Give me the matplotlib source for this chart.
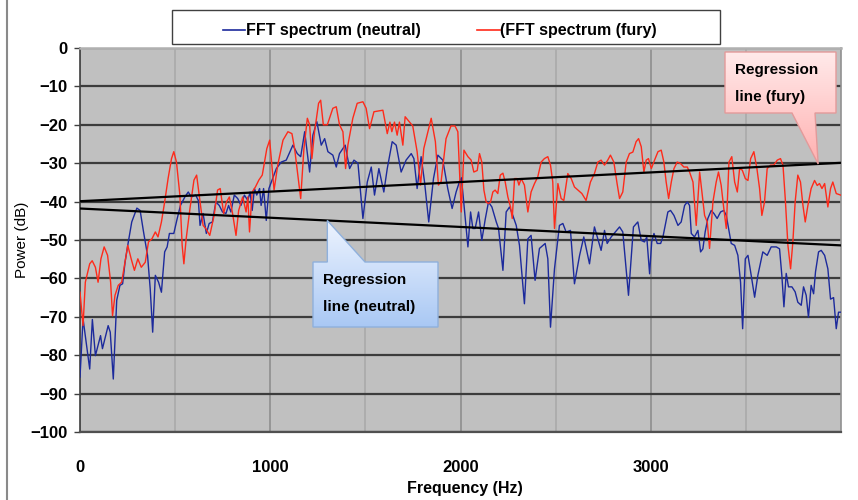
import matplotlib
matplotlib.use("Agg")
import matplotlib.pyplot as plt
import numpy as np
from matplotlib.patches import Polygon, Rectangle
from matplotlib.lines import Line2D
from matplotlib.colors import LinearSegmentedColormap

plt.rcParams['font.family'] = ['Liberation Sans', 'DejaVu Sans']

# ---------------- data ----------------
neutral_label = "FFT spectrum (neutral)"
fury_label = "(FFT spectrum (fury)"

neutral_freq = [0, 16, 51, 65, 81, 108, 118, 131, 148, 159, 175, 193, 210, 224, 237, 254, 272, 299, 316,
                334, 355, 369, 382, 396, 413, 428, 445, 458, 470, 493, 511, 528, 551, 569, 585, 608, 622,
                631, 647, 664, 679, 696, 714, 732, 749, 767, 781, 793, 811, 829, 846, 864, 882, 894, 905,
                917, 929, 944, 952, 965, 979, 993,
                1032, 1058, 1084, 1119, 1142, 1160, 1181, 1207, 1224, 1245, 1268, 1286, 1303, 1329, 1347,
                1364, 1382, 1394, 1417, 1440, 1461, 1487, 1510, 1531, 1548, 1571, 1597, 1615, 1641, 1662,
                1688, 1714, 1741, 1755, 1772, 1793, 1811, 1833, 1858, 1881, 1907, 1933, 1956, 1977, 1994,
                2005, 2039, 2053, 2065, 2077, 2095, 2112, 2130, 2147, 2165, 2188, 2200, 2223, 2240, 2258,
                2275, 2293, 2310, 2336, 2354, 2371, 2392, 2415, 2445, 2459, 2473, 2494, 2520, 2538, 2555,
                2578, 2599, 2626, 2648, 2678, 2704, 2739, 2757, 2771, 2792, 2836, 2853, 2883, 2909, 2932,
                2950, 2967, 2979, 2994,
                3005, 3017, 3034, 3052, 3064, 3076, 3090, 3104, 3122, 3143, 3160, 3178, 3192, 3204, 3213,
                3230, 3248, 3262, 3274, 3286, 3300, 3318, 3332, 3349, 3367, 3384, 3397, 3409, 3423, 3441,
                3458, 3472, 3483, 3497, 3511, 3528, 3546, 3563, 3589, 3612, 3633, 3660, 3677, 3689, 3700,
                3712, 3724, 3742, 3759, 3773, 3791, 3803, 3817, 3829, 3843, 3856, 3866, 3882, 3896, 3914,
                3931, 3945, 3961, 3975, 3987, 3998]
neutral_db = [-85.7, -70.5, -83.6, -70.7, -80.1, -74.9, -78.3, -75.7, -72.3, -74.0, -86.2, -65.7, -61.8,
              -61.4, -55.7, -50.5, -45.3, -41.7, -42.3, -47.9, -54.0, -62.7, -74.0, -59.2, -61.0, -63.6,
              -53.1, -51.8, -48.3, -48.3, -44.4, -41.0, -38.8, -37.5, -38.8, -38.3, -39.7, -46.2, -43.1,
              -48.3, -45.7, -45.3, -40.1, -41.0, -42.7, -43.1, -41.0, -42.7, -38.3, -39.2, -41.0, -38.3,
              -39.7, -37.5, -42.3, -36.6, -38.3, -36.6, -41.0, -36.6, -44.9, -36.6,
              -31.4, -29.7, -29.2, -25.3, -27.5, -28.3, -21.8, -32.3, -22.7, -19.2, -25.3, -23.6, -27.0,
              -27.9, -31.0, -27.5, -26.2, -25.3, -31.4, -29.2, -30.0, -44.4, -34.9, -31.0, -38.3, -31.4,
              -37.5, -31.4, -24.4, -25.3, -32.3, -29.2, -27.5, -28.8, -36.6, -28.3, -34.9, -45.3, -34.0,
              -27.9, -29.2, -36.6, -41.8, -37.5, -34.9,
              -33.8, -51.8, -42.7, -47.0, -47.0, -42.7, -50.1, -44.6, -40.1, -41.4, -45.3, -47.0, -57.9,
              -42.7, -41.4, -43.6, -46.2, -51.4, -66.6, -49.7, -48.8, -60.5, -52.2, -50.9, -54.9, -72.7,
              -57.5, -46.2, -45.7, -47.9, -47.5, -61.4, -54.0, -49.2, -56.2, -46.6, -52.7, -47.5, -50.9,
              -49.2, -46.6, -47.9, -64.4, -46.6, -45.3, -50.1, -50.5, -49.2, -58.8,
              -50.5, -48.3, -50.9, -50.9, -49.2, -46.2, -42.7, -42.3, -43.6, -46.2, -45.3, -41.0, -40.1,
              -41.0, -48.3, -49.2, -47.5, -53.1, -52.3, -47.9, -44.4, -42.3, -43.1, -44.4, -42.7, -42.3,
              -43.6, -47.0, -50.9, -51.4, -54.0, -61.0, -73.1, -54.9, -54.0, -59.2, -64.9, -59.2, -53.1,
              -54.0, -51.8, -51.8, -52.3, -59.2, -67.4, -58.7, -62.2, -62.2, -63.5, -66.2, -67.0, -62.2,
              -64.4, -70.1, -61.8, -64.0, -58.3, -53.1, -52.7, -54.0, -57.5, -65.4, -65.0, -73.1, -68.8,
              -68.8]

fury_freq = [0, 16, 28, 51, 64, 81, 95, 110, 127, 145, 161, 171, 184, 201, 219, 251, 269, 286, 304, 322,
             343, 360, 378, 396, 410, 428, 445, 463, 481, 493, 507, 525, 537, 546, 558, 578, 599, 613, 629,
             647, 661, 682, 705, 723, 737, 755, 770, 785, 802, 820, 834, 855, 873, 882, 891, 905, 922, 940,
             958, 970, 982, 997,
             1020, 1040, 1067, 1093, 1114, 1128, 1160, 1177, 1195, 1207, 1219, 1233, 1254, 1265, 1279,
             1300, 1329, 1347, 1364, 1382, 1396, 1408, 1434, 1457, 1487, 1504, 1522, 1545, 1592, 1615,
             1629, 1639, 1653, 1667, 1679, 1697, 1709, 1732, 1749, 1772, 1790, 1807, 1846, 1868, 1884,
             1898, 1924, 1950, 1971, 1986,
             2004, 2018, 2039, 2056, 2070, 2088, 2100, 2112, 2123, 2135, 2147, 2158, 2170, 2182, 2196,
             2209, 2223, 2235, 2249, 2263, 2272, 2284, 2298, 2307, 2319, 2336, 2354, 2371, 2389, 2406,
             2424, 2441, 2459, 2473, 2485, 2494, 2512, 2529, 2543, 2564, 2582, 2599, 2617, 2638, 2660,
             2683, 2704, 2722, 2739, 2757, 2774, 2788, 2806, 2823, 2836, 2853, 2871, 2888, 2906, 2923,
             2936, 2950, 2964, 2976, 2988,
             3003, 3020, 3038, 3055, 3069, 3081, 3094, 3108, 3122, 3139, 3157, 3174, 3192, 3204, 3222,
             3239, 3257, 3269, 3283, 3297, 3309, 3327, 3344, 3356, 3370, 3384, 3397, 3411, 3426, 3441,
             3455, 3467, 3481, 3497, 3511, 3525, 3542, 3558, 3572, 3584, 3598, 3612, 3630, 3647, 3665,
             3682, 3695, 3707, 3721, 3735, 3747, 3759, 3773, 3787, 3800, 3812, 3826, 3843, 3861, 3875,
             3887, 3900, 3914, 3931, 3945, 3957, 3975, 3998]
fury_db = [-63.6, -72.3, -61.0, -56.2, -55.4, -57.1, -61.0, -54.9, -51.8, -54.0, -61.0, -69.7, -64.4,
           -61.8, -61.0, -51.4, -54.9, -57.9, -54.9, -57.1, -55.8, -50.5, -49.7, -47.9, -49.2, -45.3,
           -40.1, -34.0, -28.8, -27.0, -29.7, -38.3, -51.4, -56.2, -49.7, -41.8, -34.4, -33.1, -39.2,
           -46.2, -47.0, -48.8, -43.6, -37.0, -36.6, -43.1, -40.1, -38.8, -43.1, -48.8, -42.3, -38.8,
           -42.7, -38.8, -47.9, -37.5, -36.2, -34.4, -33.1, -29.7, -26.2, -24.0,
           -37.0, -30.3, -24.0, -21.8, -22.3, -26.2, -39.2, -26.2, -18.3, -20.0, -28.8, -21.8, -14.4,
           -13.6, -20.0, -20.0, -15.7, -15.3, -20.0, -21.8, -31.4, -25.3, -18.3, -14.4, -14.0, -15.7,
           -21.0, -16.6, -16.2, -22.3, -19.3, -21.8, -19.3, -22.7, -19.3, -25.3, -17.9, -19.3, -20.3,
           -27.0, -35.7, -26.2, -18.3, -24.4, -35.7, -34.8, -23.6, -20.3, -20.3, -21.8,
           -42.7, -26.6, -28.3, -29.2, -32.3, -31.9, -27.5, -29.7, -37.0, -40.1, -40.5, -40.1, -37.5,
           -37.0, -37.9, -33.1, -32.6, -34.9, -38.8, -41.4, -44.4, -34.0, -34.0, -35.7, -34.0, -35.7,
           -42.7, -37.5, -35.3, -33.6, -29.7, -28.8, -28.3, -30.5, -34.9, -47.0, -35.3, -39.2, -39.7,
           -32.7, -34.0, -36.2, -37.0, -37.9, -39.7, -34.9, -32.7, -29.7, -29.2, -30.5, -29.2, -27.9,
           -29.7, -35.3, -39.2, -37.5, -29.7, -27.5, -27.1, -24.4, -23.6, -25.7, -32.3, -29.2, -28.8,
           -31.4, -29.2, -27.0, -26.6, -29.7, -34.9, -39.2, -34.9, -31.4, -29.7, -30.1, -31.0, -31.0,
           -32.3, -34.9, -46.2, -32.3, -37.5, -43.6, -45.3, -52.2, -40.0, -34.9, -32.3, -35.7, -41.8,
           -47.0, -29.7, -28.3, -34.9, -37.5, -31.4, -31.8, -34.0, -34.5, -28.8, -27.0, -31.4, -36.6,
           -43.6, -40.1, -31.4, -30.5, -30.5, -29.2, -28.8, -30.5, -39.2, -51.4, -57.5, -50.5, -40.1,
           -33.1, -34.9, -41.0, -45.3, -41.0, -36.6, -34.5, -35.8, -35.3, -36.6, -35.3, -41.4, -36.6,
           -34.9, -37.9, -38.3]

# regression lines (read at both ends of the frequency range)
reg_freq = [0, 4000]
neutral_reg = [-41.8, -51.4]
fury_reg = [-39.9, -29.9]

x_ticks = [0, 1000, 2000, 3000]
x_minor = [500, 1500, 2500, 3500]
y_ticks = list(range(-100, 1, 10))

neutral_color = "#1c2a9c"
fury_color = "#ff2a1a"

W, H = 858, 500
fig = plt.figure(figsize=(W / 100, H / 100), dpi=100)
fig.patch.set_facecolor("white")

ax = fig.add_axes([80 / W, 68 / H, 761 / W, 384 / H])
ax.set_facecolor("#c0c0c0")
ax.set_xlim(0, 4000)
ax.set_ylim(-100, 0)

ax.set_xticks(x_ticks)
ax.set_xticklabels([str(v) for v in x_ticks], fontsize=12, fontweight="bold")
ax.set_xticks(x_minor, minor=True)
ax.set_yticks(y_ticks)
ax.set_yticklabels([str(v).replace("-", "\u2212") for v in y_ticks], fontsize=12, fontweight="bold")

ax.tick_params(axis="x", which="both", length=0, pad=20)
ax.tick_params(axis="y", direction="out", length=4, width=1, color="#404040", pad=5)

ax.xaxis.grid(True, which="major", color="#8e8e8e", lw=1.2)
ax.xaxis.grid(True, which="minor", color="#aaaaaa", lw=1.2)
ax.yaxis.grid(True, which="major", color="#3c3c3c", lw=1.6)
ax.set_axisbelow(True)

for side, col, lw in [("left", "#404040", 1.2), ("bottom", "#505050", 1.6),
                      ("right", "#909090", 1.2), ("top", "#b0b0b0", 1.8)]:
    ax.spines[side].set_color(col)
    ax.spines[side].set_linewidth(lw)

ax.plot(neutral_freq, neutral_db, color=neutral_color, lw=1.0, zorder=3)
ax.plot(fury_freq, fury_db, color=fury_color, lw=1.0, zorder=3)
ax.plot(reg_freq, fury_reg, color="black", lw=1.6, zorder=4)
ax.plot(reg_freq, neutral_reg, color="black", lw=1.6, zorder=4)

fig.text(465 / W, 1 - 489 / H, "Frequency (Hz)", ha="center", va="center",
         fontsize=11.5, fontweight="bold")
fig.text(22 / W, 1 - 240 / H, "Power (dB)", ha="center", va="center", rotation=90,
         fontsize=11)

# ---------- overlay in pixel coordinates ----------
ov = fig.add_axes([0, 0, 1, 1], zorder=10)
ov.set_xlim(0, W)
ov.set_ylim(H, 0)
ov.axis("off")
ov.patch.set_alpha(0)

# frame line at left
ov.add_line(Line2D([7, 7], [0, H], color="#8a8a8a", lw=1.5))

# legend
ov.add_patch(Rectangle((172, 10), 548, 34, facecolor="white", edgecolor="#404040", lw=1.0))
ov.add_line(Line2D([223, 245], [30, 30], color=neutral_color, lw=1.2))
ov.text(246, 30, neutral_label, ha="left", va="center", fontsize=11.5, fontweight="bold")
ov.add_line(Line2D([477, 500], [30, 30], color=fury_color, lw=1.2))
ov.text(500, 30, fury_label, ha="left", va="center", fontsize=11.5, fontweight="bold")


def to_px(f, v):
    x, y = ax.transData.transform((f, v))
    return x, H - y


def callout(pts, box, top_c, bot_c, edge_c):
    x0, y0, x1, y1 = box
    poly = Polygon(pts, closed=True, facecolor="none", edgecolor=edge_c, lw=1.0, zorder=3)
    ov.add_patch(poly)
    cmap = LinearSegmentedColormap.from_list("g", [top_c, bot_c])
    grad = np.linspace(0, 1, 256).reshape(-1, 1)
    ys = [p[1] for p in pts]
    im = ov.imshow(grad, cmap=cmap, aspect="auto", origin="upper",
                   extent=(x0, x1, max(ys), min(ys)), zorder=2)
    im.set_clip_path(poly)


# fury callout
tx, ty = to_px(3880, np.interp(3880, reg_freq, fury_reg))
callout([(725, 52), (836, 52), (836, 113), (815, 113), (tx, ty), (792, 113), (725, 113)],
        (725, 52, 836, 113), "#ffeaea", "#ffb0b0", "#e39a9a")
ov.text(735, 70, "Regression", ha="left", va="center", fontsize=11, fontweight="bold", zorder=5)
ov.text(735, 97, "line (fury)", ha="left", va="center", fontsize=11, fontweight="bold", zorder=5)

# neutral callout
nx, ny = to_px(1300, np.interp(1300, reg_freq, neutral_reg))
callout([(313, 262), (nx, 262), (nx, ny), (365, 262), (438, 262), (438, 327), (313, 327)],
        (313, 262, 438, 327), "#eef4ff", "#a9c8f4", "#8fb0dc")
ov.text(323, 280, "Regression", ha="left", va="center", fontsize=11, fontweight="bold", zorder=5)
ov.text(323, 307, "line (neutral)", ha="left", va="center", fontsize=11, fontweight="bold", zorder=5)

ov.set_xlim(0, W)
ov.set_ylim(H, 0)

fig.savefig("out.png", dpi=100)
